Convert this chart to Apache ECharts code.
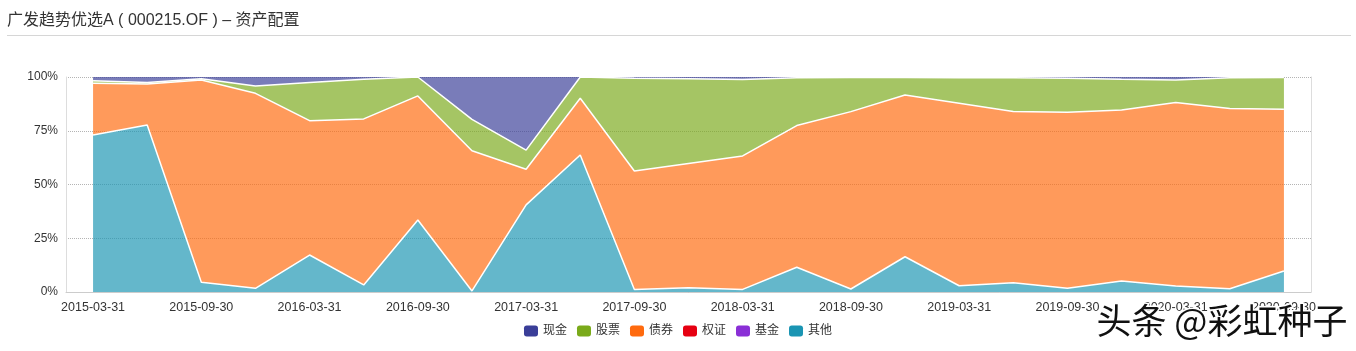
<!DOCTYPE html>
<html>
<head>
<meta charset="utf-8">
<title>资产配置</title>
<script src="https://cdn.jsdelivr.net/npm/echarts@6/dist/echarts.min.js"></script>
<style>
    html, body {margin: 0; padding: 0; background: #fff;}
    #main {width: 1356px; height: 351px;}
</style>
</head>
<body>
<div id="main"></div>
<script>
const dates = [
    '2015-03-31', '2015-06-30', '2015-09-30', '2015-12-31',
    '2016-03-31', '2016-06-30', '2016-09-30', '2016-12-31',
    '2017-03-31', '2017-06-30', '2017-09-30', '2017-12-31',
    '2018-03-31', '2018-06-30', '2018-09-30', '2018-12-31',
    '2019-03-31', '2019-06-30', '2019-09-30', '2019-12-31',
    '2020-03-31', '2020-06-30', '2020-09-30'
];
// 占比 (%)
const cash = [1.7, 2.6, 0.8, 4.2, 2.6, 1.1, 0, 19.7, 34.0, 0, 0.6, 0.8, 1.2, 0.4, 0.2, 0.2, 0.4, 0.4, 0.6, 1.1, 1.4, 0.4, 0.2];
const stock = [1.2, 0.7, 0.6, 3.4, 17.7, 18.4, 8.8, 14.6, 8.9, 9.9, 43.1, 39.4, 35.5, 22.2, 15.9, 8.2, 11.8, 15.7, 15.8, 14.2, 10.5, 14.2, 14.8];
const bond = [24.1, 19.0, 94.1, 90.7, 62.5, 77.2, 57.7, 65.2, 16.6, 26.4, 55.1, 57.8, 62.1, 65.9, 82.5, 75.2, 84.9, 79.6, 81.9, 79.6, 85.3, 83.9, 75.2];
const warrant = [0, 0, 0, 0, 0, 0, 0, 0, 0, 0, 0, 0, 0, 0, 0, 0, 0, 0, 0, 0, 0, 0, 0];
const fund = [0, 0, 0, 0, 0, 0, 0, 0, 0, 0, 0, 0, 0, 0, 0, 0, 0, 0, 0, 0, 0, 0, 0];
const other = [73.0, 77.7, 4.5, 1.7, 17.2, 3.3, 33.5, 0.5, 40.5, 63.7, 1.2, 2.0, 1.2, 11.5, 1.4, 16.4, 2.9, 4.3, 1.7, 5.1, 2.8, 1.5, 9.8];
const yTicks = [0, 25, 50, 75, 100];

const font = "'Helvetica Neue', 'Liberation Sans', 'Noto Sans CJK SC', sans-serif";

const area = (name, data, color, lineWidth) => ({
    name: name,
    type: 'line',
    stack: 'Total',
    data: data,
    showSymbol: false,
    symbol: 'none',
    itemStyle: {color: color},
    lineStyle: {color: '#fff', width: lineWidth},
    areaStyle: {color: color, opacity: 0.68},
    emphasis: {disabled: true}
});

const myChart = echarts.init(document.getElementById('main'));
myChart.setOption({
    animation: false,
    textStyle: {fontFamily: font},
    title: {
        text: '广发趋势优选A ( 000215.OF ) – 资产配置',
        left: 2,
        top: 8,
        textStyle: {color: '#333', fontSize: 16, fontWeight: 'normal', fontFamily: font}
    },
    graphic: [
        {
            type: 'line',
            shape: {x1: 7, y1: 35.5, x2: 1351, y2: 35.5},
            style: {stroke: '#d6d6d6', lineWidth: 1},
            silent: true
        },
        {
            type: 'text',
            left: 1095,
            top: 302,
            z: 100,
            style: {
                text: '头条 @彩虹种子',
                fill: '#111',
                stroke: '#fff',
                lineWidth: 3,
                font: "35px 'Noto Sans CJK SC'"
            },
            silent: true
        }
    ],
    legend: {
        data: ['现金', '股票', '债券', '权证', '基金', '其他'],
        bottom: 9,
        icon: 'roundRect',
        itemWidth: 14,
        itemHeight: 11,
        itemGap: 10,
        textStyle: {color: '#333', fontSize: 12, fontFamily: font}
    },
    color: ['#3a3e98', '#7aaa1a', '#ff6a0e', '#e60012', '#8a2fd6', '#1a95b3'],
    grid: {
        left: 66,
        right: 45,
        top: 77,
        bottom: 59
    },
    xAxis: {
        type: 'category',
        boundaryGap: true,
        data: dates,
        axisLine: {lineStyle: {color: '#ccc'}},
        axisTick: {alignWithLabel: true, interval: 0, length: 5, lineStyle: {color: '#ccc'}},
        axisLabel: {interval: 1, color: '#333', fontSize: 12.5, margin: 9, fontFamily: font}
    },
    yAxis: [
        {
            type: 'value',
            min: yTicks[0],
            max: yTicks[yTicks.length - 1],
            interval: 25,
            axisLine: {show: true, lineStyle: {color: '#ddd'}},
            axisTick: {show: false},
            axisLabel: {formatter: '{value}%', color: '#333', fontSize: 12, margin: 8, fontFamily: font},
            splitLine: {show: true, lineStyle: {color: '#b4b4b4', type: 'dotted'}}
        },
        {
            type: 'value',
            min: yTicks[0],
            max: yTicks[yTicks.length - 1],
            interval: 25,
            position: 'right',
            axisLine: {show: true, lineStyle: {color: '#ddd'}},
            axisTick: {show: false},
            axisLabel: {show: false},
            splitLine: {show: false}
        }
    ],
    series: [
        area('其他', other, '#1a95b3', 1.5),
        area('基金', fund, '#8a2fd6', 0),
        area('权证', warrant, '#e60012', 0),
        area('债券', bond, '#ff6a0e', 1.5),
        area('股票', stock, '#7aaa1a', 1.5),
        area('现金', cash, '#3a3e98', 0)
    ]
});
</script>
</body>
</html>
